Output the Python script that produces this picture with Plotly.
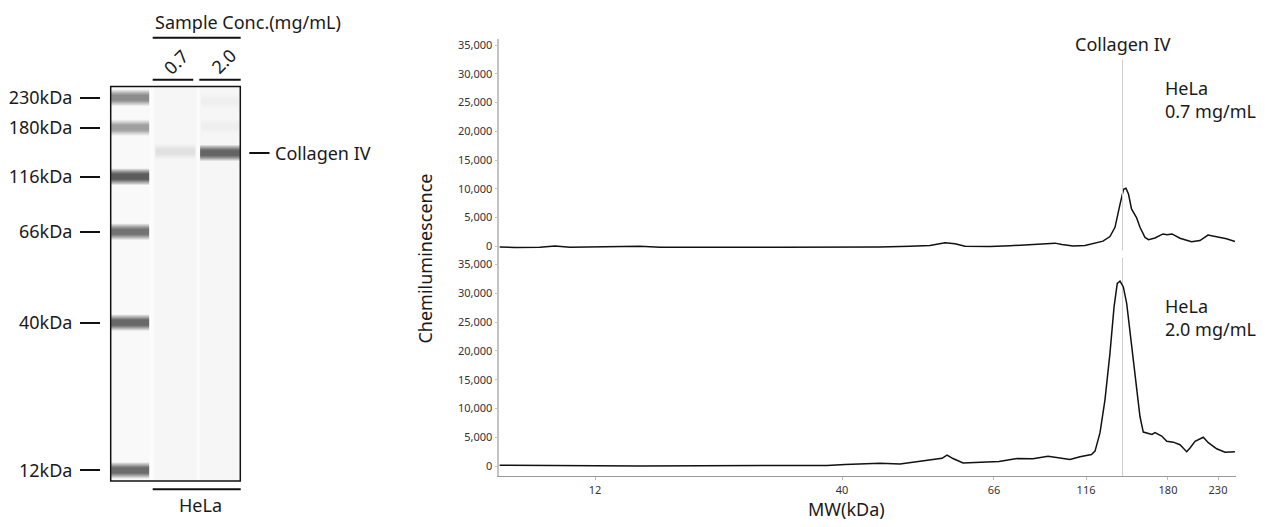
import plotly.graph_objects as go

W, H = 1267, 527

# ---------------- data ----------------
# ladder (MW markers) and their migration position (mobility units, 0-100)
ladder_kda = [12, 40, 66, 116, 180, 230]
ladder_pos = [12.99, 46.50, 67.12, 79.61, 90.73, 97.52]
ep_tick_text = ["12", "40", "66", "116", "180", "230"]
gel_tick_text = ["12kDa", "40kDa", "66kDa", "116kDa", "180kDa", "230kDa"]
ladder_band_gray = [0.44, 0.43, 0.47, 0.38, 0.65, 0.56]   # core brightness of ladder bands

collagen_pos = 84.56                      # Collagen IV marker position
sample_lanes = ["0.7", "2.0"]
sample_band_lane = [1, 2, 2, 2]
sample_band_pos = [85.3, 85.0, 96.7, 91.0]
sample_band_gray = [0.93, 0.42, 0.975, 0.98]

signal_ticks = [0, 5000, 10000, 15000, 20000, 25000, 30000, 35000]

# HeLa 0.7 mg/mL electropherogram
top_u = [0.03, 2.13, 5.52, 7.56, 9.59, 13.66, 15.70, 19.09, 21.80, 27.23, 29.95,
         38.09, 46.23, 51.66, 55.73, 58.44, 60.48, 61.83, 63.19, 66.58, 69.29,
         72.01, 74.04, 75.40, 76.35, 77.84, 79.47, 80.83, 81.91, 82.86, 83.54,
         84.22, 84.70, 85.03, 85.37, 85.78, 86.46, 86.93, 87.61, 88.09, 88.97,
         90.05, 90.60, 91.28, 92.36, 93.92, 95.07, 96.16, 97.31, 98.67, 99.82]
top_signal = [-100, -200, -150, 50, -150, -100, 0, 0, -150, -100, -150,
              -150, -150, -120, 0, 150, 600, 450, 0, -50, 100,
              250, 400, 550, 300, 50, 150, 500, 900, 1700, 3300,
              7300, 9900, 10100, 9100, 6500, 5000, 3300, 1550, 1150, 1450,
              2150, 2000, 2150, 1400, 800, 1000, 1950, 1700, 1300, 850]

# HeLa 2.0 mg/mL electropherogram
bottom_u = [0.03, 4.17, 8.24, 13.66, 19.09, 27.23, 35.37, 40.80, 44.46, 46.91,
            48.94, 51.66, 54.37, 56.40, 58.44, 60.07, 60.75, 61.56, 62.92, 65.22,
            67.80, 70.24, 72.41, 74.45, 76.08, 77.44, 78.79, 80.35, 80.83, 81.51,
            82.18, 82.86, 83.41, 83.85, 84.22, 84.67, 85.13, 85.81, 86.49, 86.93,
            87.38, 88.06, 88.56, 88.97, 89.88, 90.56, 91.45, 92.36, 93.27, 93.72,
            94.40, 95.52, 96.20, 97.34, 98.47, 99.82]
bottom_signal = [150, 100, 50, 100, 0, 50, 50, 100, 100, 250,
                 400, 500, 350, 700, 1100, 1350, 1900, 1300, 550, 650,
                 800, 1300, 1250, 1700, 1450, 1150, 1600, 2000, 2600, 5800,
                 11500, 19600, 27600, 31700, 32100, 31100, 28200, 20700, 12700, 8600,
                 5900, 5650, 5500, 5800, 5200, 4300, 4150, 3700, 2500, 3150,
                 4300, 5000, 4050, 3000, 2400, 2500]

# ---------------- helpers ----------------
def pxx(p):
    return p / W


def pxy(p):
    return 1 - p / H


FONT = "Noto Sans"
TXT = "#1a1a1a"

fig = go.Figure()
fig.add_trace(go.Scatter(x=bottom_u, y=bottom_signal, mode="lines",
                         line=dict(color="#111111", width=1.5),
                         xaxis="x", yaxis="y", showlegend=False, hoverinfo="skip"))
fig.add_trace(go.Scatter(x=top_u, y=top_signal, mode="lines",
                         line=dict(color="#111111", width=1.5),
                         xaxis="x2", yaxis="y2", showlegend=False, hoverinfo="skip"))
# invisible anchor trace for the gel axes
fig.add_trace(go.Scatter(x=[0.45] * len(ladder_pos), y=ladder_pos, mode="markers",
                         marker=dict(opacity=0), xaxis="x3", yaxis="y3",
                         showlegend=False, hoverinfo="skip"))

ep_dom = [pxx(499.3), pxx(1236.3)]
gel_top, gel_bot = 85.0, 481.7
gel_range = [10.59, 100.06]
gel_px_per_u = (gel_bot - gel_top) / (gel_range[1] - gel_range[0])

common_y = dict(tickvals=signal_ticks, tickformat=",", showline=True, linecolor="#c4c4c4",
                linewidth=1.5, ticks="outside", ticklen=3, tickcolor="#c4c4c4",
                tickfont=dict(size=11, color="#333333", family=FONT),
                showgrid=False, zeroline=False)

fig.update_layout(
    width=W, height=H, margin=dict(l=0, r=0, t=0, b=0),
    paper_bgcolor="white", plot_bgcolor="white",
    font=dict(family=FONT, color=TXT),
    xaxis=dict(domain=ep_dom, range=[0, 100], anchor="y", tickvals=ladder_pos,
               ticktext=ep_tick_text, showline=True, linecolor="#9a9a9a", linewidth=1.3,
               ticks="outside", ticklen=3, tickcolor="#bbbbbb",
               tickfont=dict(size=11, color="#333333", family=FONT),
               showgrid=False, zeroline=False),
    xaxis2=dict(domain=ep_dom, range=[0, 100], anchor="y2", showticklabels=False,
                showline=False, ticks="", showgrid=False, zeroline=False),
    yaxis=dict(domain=[pxy(477), pxy(255)], range=[-1778, 36554], anchor="x", **common_y),
    yaxis2=dict(domain=[pxy(255), pxy(37)], range=[-1608, 36090], anchor="x2", **common_y),
    xaxis3=dict(domain=[pxx(110.7), pxx(240.3)], range=[0, 3], anchor="y3", visible=False),
    yaxis3=dict(domain=[pxy(gel_bot), pxy(gel_top)], range=gel_range, anchor="free",
                position=pxx(100), side="left", tickvals=ladder_pos, ticktext=gel_tick_text,
                ticks="outside", ticklen=20, tickwidth=2, tickcolor="#111111",
                ticklabelstandoff=4,
                showline=False, showgrid=False, zeroline=False,
                tickfont=dict(size=18, color=TXT, family=FONT)),
)

shapes = []
# gel background and lanes
shapes.append(dict(type="rect", xref="x3", yref="y3 domain", x0=0, x1=3, y0=0, y1=1,
                   fillcolor="#fcfcfc", line=dict(width=0), layer="below"))
lane_x = {0: (0.0, 0.90), 1: (0.99, 1.99), 2: (2.06, 3.0)}
lane_fill = {0: "#f9f9f9", 1: "#f6f6f6", 2: "#f6f6f6"}
for k, (a0, a1) in lane_x.items():
    shapes.append(dict(type="rect", xref="x3", yref="y3 domain", x0=a0, x1=a1, y0=0, y1=1,
                       fillcolor=lane_fill[k], line=dict(width=0), layer="below"))

band_x = {0: (0.01, 0.89), 1: (1.03, 1.96), 2: (2.07, 2.99)}
half_px = [8.0, 7.0, 6.0, 5.2, 4.4, 3.6, 2.8]


def add_band(lane, pos, gray):
    n = len(half_px)
    a = 1 - gray ** (1.0 / n)
    x0, x1 = band_x[lane]
    for hp in half_px:
        hu = hp / gel_px_per_u
        shapes.append(dict(type="rect", xref="x3", yref="y3", x0=x0, x1=x1,
                           y0=pos - hu, y1=pos + hu, fillcolor="black", opacity=a,
                           line=dict(width=0), layer="above"))


for pos, g in zip(ladder_pos, ladder_band_gray):
    add_band(0, pos, g)
for ln, pos, g in zip(sample_band_lane, sample_band_pos, sample_band_gray):
    add_band(ln, pos, g)

# gel border
shapes.append(dict(type="rect", xref="x3 domain", yref="y3 domain", x0=0, x1=1, y0=0, y1=1,
                   line=dict(color="#111111", width=1.5), fillcolor="rgba(0,0,0,0)"))


def hline(x0, x1, y, w=2):
    shapes.append(dict(type="line", xref="paper", yref="paper", x0=pxx(x0), x1=pxx(x1),
                       y0=pxy(y), y1=pxy(y), line=dict(color="#111111", width=w)))


hline(152.7, 240.7, 36)
hline(152.7, 193.3, 78.3)
hline(199.3, 240.7, 78.3)
hline(152.7, 240.7, 490)
# Collagen IV marker on gel
shapes.append(dict(type="line", xref="paper", yref="y3", x0=pxx(249.3), x1=pxx(269.5),
                   y0=sample_band_pos[1], y1=sample_band_pos[1],
                   line=dict(color="#111111", width=2)))
# Collagen IV vertical guide on electropherograms
shapes.append(dict(type="line", xref="x2", yref="y2 domain", x0=collagen_pos, x1=collagen_pos,
                   y0=(255 - 250) / 218, y1=(255 - 58) / 218,
                   line=dict(color="#cccccc", width=1)))
shapes.append(dict(type="line", xref="x", yref="y domain", x0=collagen_pos, x1=collagen_pos,
                   y0=0, y1=(477 - 257) / 222, line=dict(color="#cccccc", width=1), layer="below"))

annotations = []


def ann(text, x, y, xref="paper", yref="paper", xanchor="center", yanchor="middle",
        size=18, angle=0, align="center"):
    annotations.append(dict(text=text, x=x, y=y, xref=xref, yref=yref, xanchor=xanchor,
                            yanchor=yanchor, showarrow=False, textangle=angle, align=align,
                            font=dict(size=size, color=TXT, family=FONT)))


ann("Sample Conc.(mg/mL)", pxx(248.3), pxy(20))
ann(sample_lanes[0], pxx(175.5), pxy(60), angle=-45)
ann(sample_lanes[1], pxx(223.5), pxy(59.5), angle=-45)
ann("HeLa", pxx(200), pxy(506))
ann("Collagen IV", pxx(273.3), sample_band_pos[1], yref="y3", xanchor="left")

ann("Collagen IV", collagen_pos, pxy(42), xref="x2")
ann("HeLa<br>0.7 mg/mL", pxx(1163), pxy(98.5), xanchor="left", align="left")
ann("HeLa<br>2.0 mg/mL", pxx(1163), pxy(317.5), xanchor="left", align="left")
ann("Chemiluminescence", pxx(425.5), pxy(258.5), angle=-90)
ann("MW(kDa)", pxx(846), pxy(510))

fig.update_layout(shapes=shapes, annotations=annotations)
fig.write_html("out.html", config={"displayModeBar": False},
               post_script="document.body.style.margin='0';document.body.style.overflow='hidden';")
